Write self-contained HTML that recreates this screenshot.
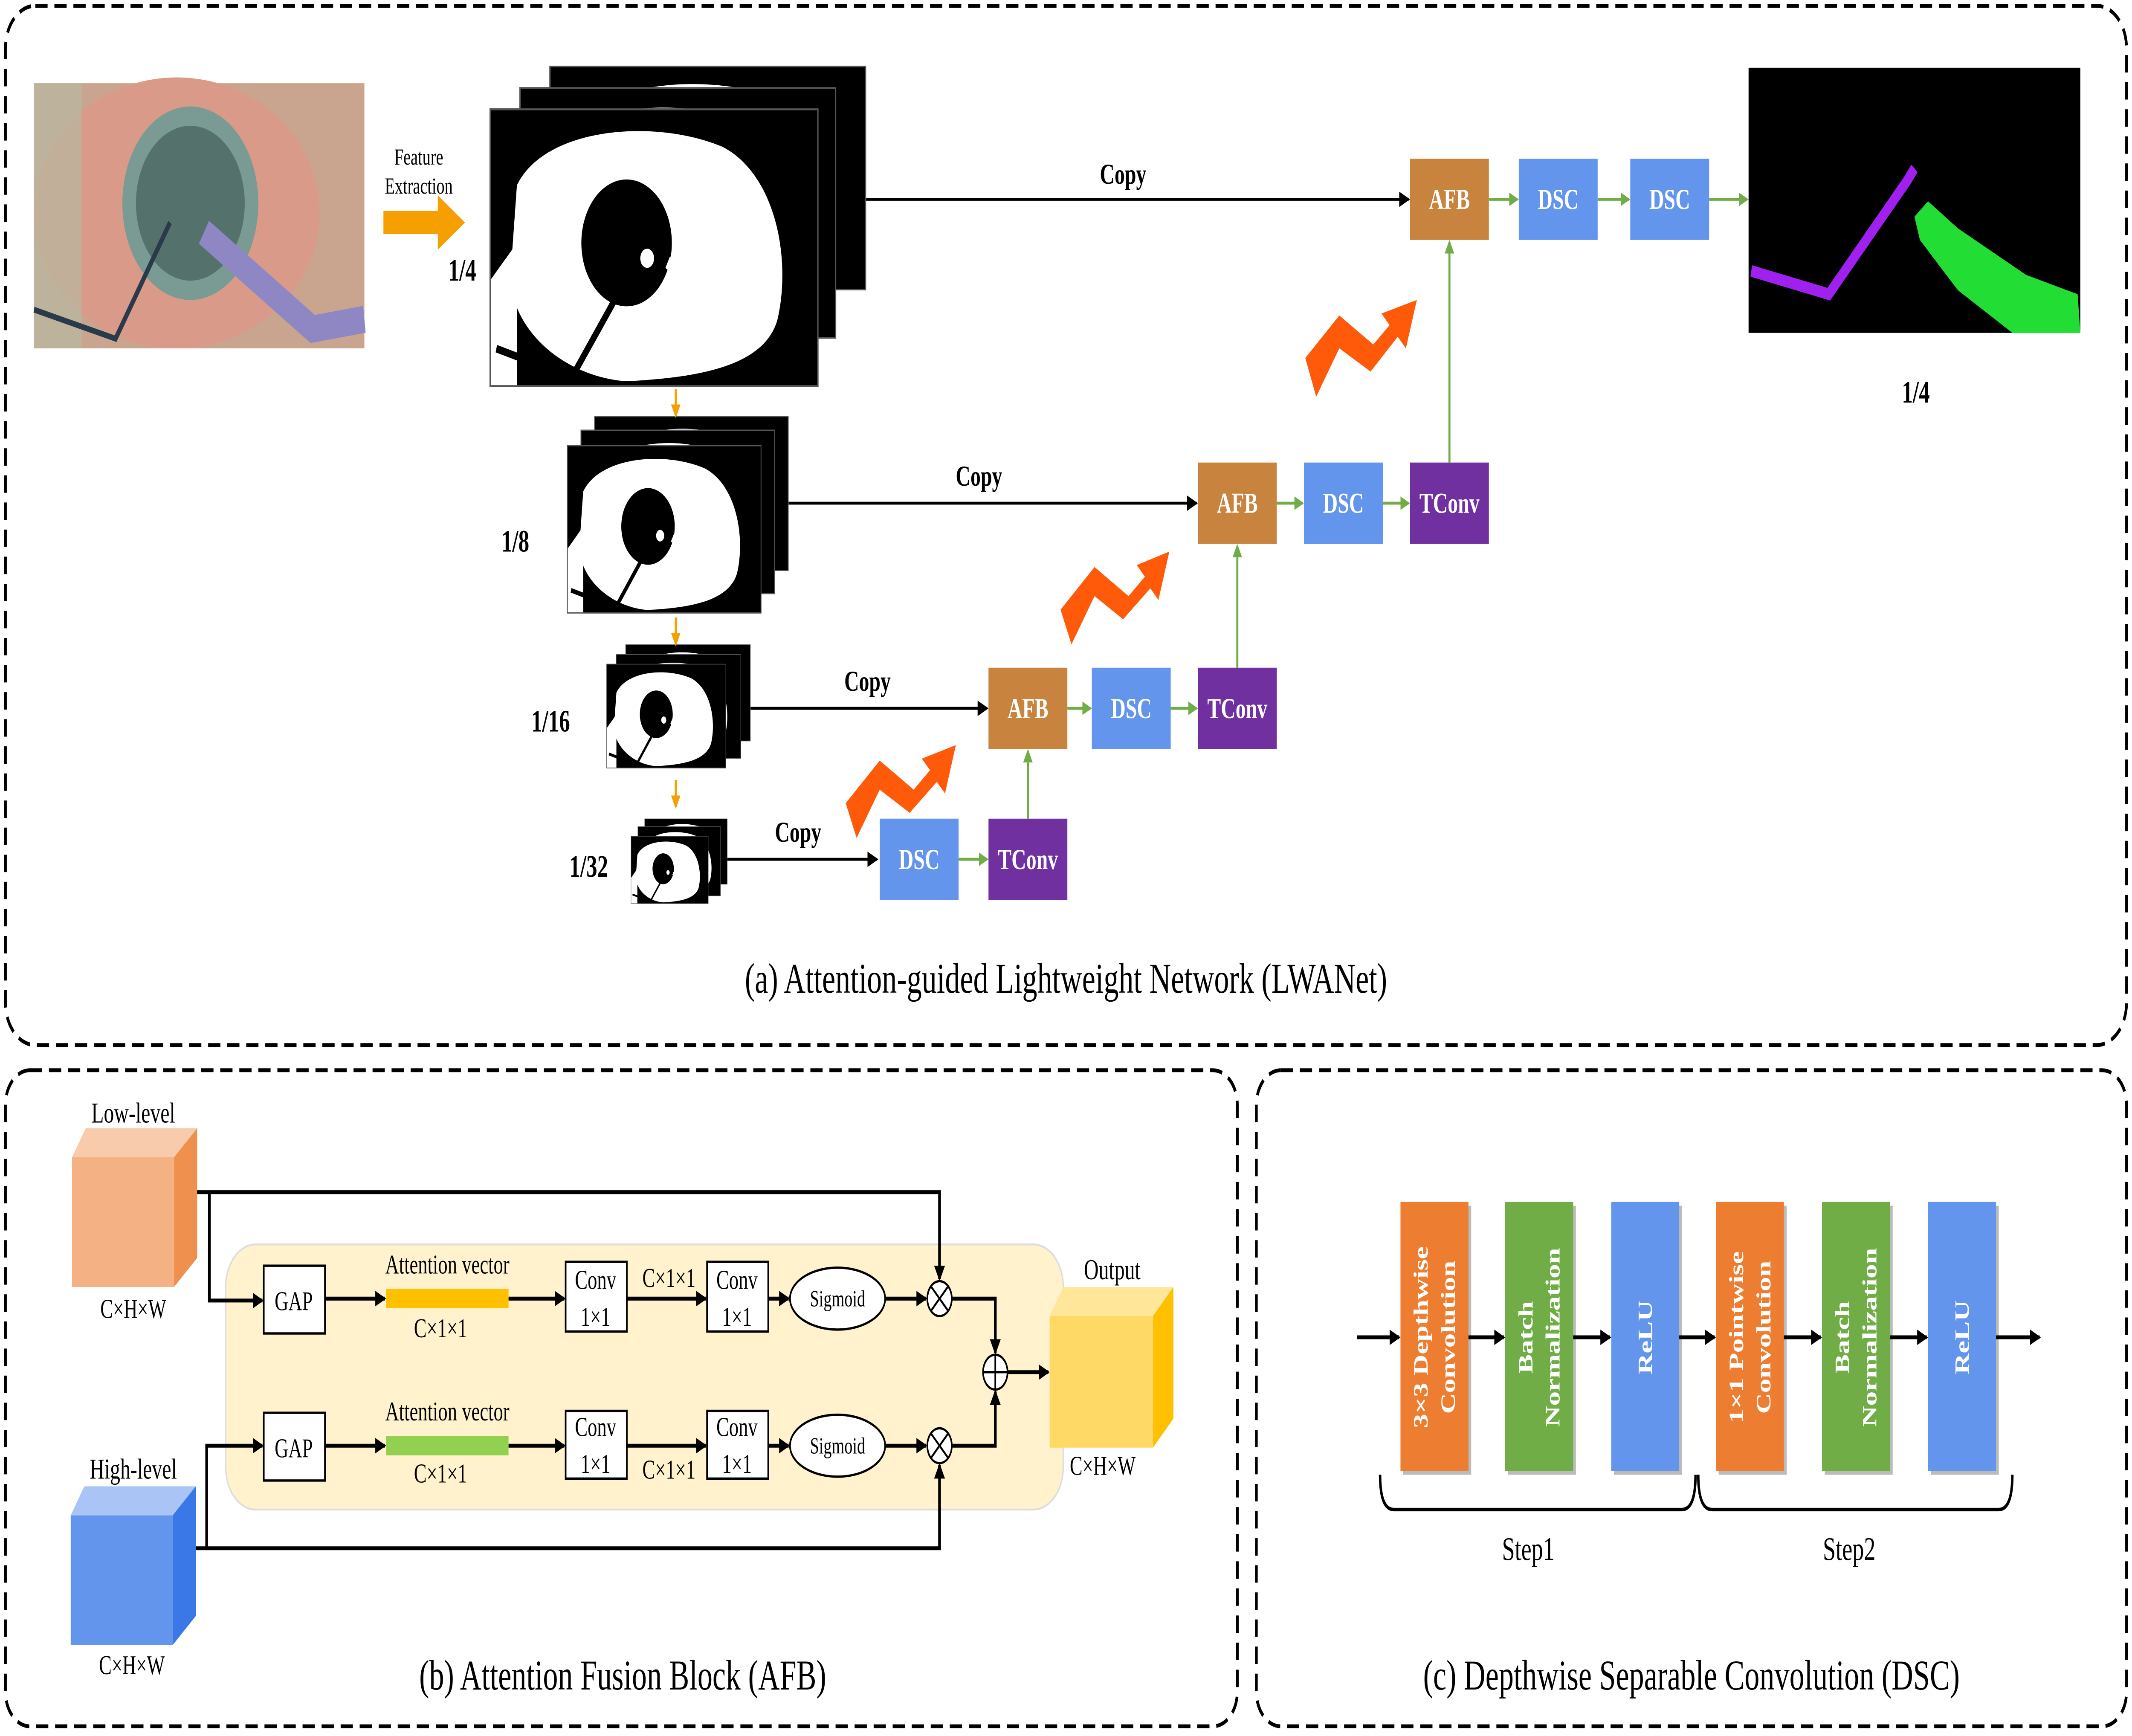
<!DOCTYPE html>
<html><head><meta charset="utf-8"><style>
html,body{margin:0;padding:0;background:#fff;width:100%;height:100%;overflow:hidden}
svg{display:block;width:100vw;height:100vh;position:fixed;left:0;top:0}
text{font-family:"Liberation Serif",serif}
</style></head><body>
<svg viewBox="0 0 1568 897" preserveAspectRatio="none" xmlns="http://www.w3.org/2000/svg">
<defs>
<marker id="ab" markerWidth="8" markerHeight="8" refX="7" refY="4" orient="auto" markerUnits="userSpaceOnUse"><path d="M0,0 L8,4 L0,8 z" fill="#000"/></marker>
<marker id="ag" markerWidth="7" markerHeight="7" refX="6" refY="3.5" orient="auto" markerUnits="userSpaceOnUse"><path d="M0,0 L7,3.5 L0,7 z" fill="#70AD47"/></marker>
<marker id="ao" markerWidth="7" markerHeight="7" refX="6" refY="3.5" orient="auto" markerUnits="userSpaceOnUse"><path d="M0,0 L7,3.5 L0,7 z" fill="#F5A000"/></marker>
<symbol id="fm" viewBox="0 0 240 145" preserveAspectRatio="none">
<rect x="0" y="0" width="240" height="145" fill="#000"/>
<path d="M20,40 C40,10 120,5 170,20 C210,35 220,80 210,110 C200,135 150,140 100,142 C60,140 20,120 15,90 Z" fill="#fff"/>
<path d="M0,90 L20,70 L20,145 L0,145 Z" fill="#fff"/>
<circle cx="100" cy="70" r="33" fill="#000"/>
<circle cx="115" cy="78" r="5" fill="#fff"/>
<path d="M5,125 L60,140 L95,95" stroke="#000" stroke-width="4" fill="none"/>
<path d="M130,80 L175,105" stroke="#fff" stroke-width="7"/>
<rect x="0" y="0" width="240" height="145" fill="none" stroke="#555" stroke-width="2"/>
</symbol>
</defs>

<rect x="4" y="3" width="1560" height="537" rx="22" fill="none" stroke="#000" stroke-width="2" stroke-dasharray="9,5"/>
<rect x="4" y="553" width="906" height="339" rx="18" fill="none" stroke="#000" stroke-width="2" stroke-dasharray="9,5"/>
<rect x="924" y="553" width="640" height="339" rx="18" fill="none" stroke="#000" stroke-width="2" stroke-dasharray="9,5"/>

<rect x="25" y="43" width="243" height="137" fill="#c9a58f"/>
<ellipse cx="130" cy="110" rx="105" ry="70" fill="#d99a8a"/>
<path d="M25,43 L60,43 L60,180 L25,180Z" fill="#b8b89f" opacity="0.7"/>
<circle cx="140" cy="105" r="50" fill="#7a9a94"/>
<circle cx="140" cy="105" r="40" fill="#55716c"/>
<path d="M25,160 L85,175 L125,115" stroke="#2a3a4a" stroke-width="3" fill="none"/>
<path d="M150,120 L230,170 L268,165" stroke="#8f86c4" stroke-width="14" fill="none"/>

<text x="308" y="85" font-size="12" text-anchor="middle">Feature</text>
<text x="308" y="100" font-size="12" text-anchor="middle">Extraction</text>
<path d="M282,109 L322,109 L322,101 L342,115 L322,129 L322,121 L282,121 Z" fill="#F5A000"/>

<use href="#fm" x="404" y="34" width="233" height="116"/>
<use href="#fm" x="382" y="45" width="233" height="130"/>
<use href="#fm" x="360" y="56" width="242" height="144"/>
<text x="340" y="145" font-size="16" font-weight="bold" text-anchor="middle">1/4</text>
<use href="#fm" x="437" y="215" width="143" height="80"/>
<use href="#fm" x="427" y="222" width="143" height="85"/>
<use href="#fm" x="417" y="230" width="143" height="87"/>
<text x="379" y="285" font-size="16" font-weight="bold" text-anchor="middle">1/8</text>
<use href="#fm" x="460" y="333" width="92" height="50"/>
<use href="#fm" x="453" y="338" width="92" height="54"/>
<use href="#fm" x="446" y="343" width="88" height="54"/>
<text x="405" y="378" font-size="16" font-weight="bold" text-anchor="middle">1/16</text>
<use href="#fm" x="474" y="423" width="61" height="34"/>
<use href="#fm" x="469" y="427" width="61" height="36"/>
<use href="#fm" x="464" y="432" width="57" height="35"/>
<text x="433" y="453" font-size="16" font-weight="bold" text-anchor="middle">1/32</text>

<g stroke="#F5A000" stroke-width="1.5" marker-end="url(#ao)">
<line x1="497" y1="201" x2="497" y2="215"/>
<line x1="497" y1="319" x2="497" y2="333"/>
<line x1="497" y1="403" x2="497" y2="417"/>
</g>

<g stroke="#000" stroke-width="1.5" marker-end="url(#ab)">
<line x1="637" y1="103" x2="1036" y2="103"/>
<line x1="580" y1="260" x2="880" y2="260"/>
<line x1="552" y1="366" x2="726" y2="366"/>
<line x1="535" y1="444" x2="645" y2="444"/>
</g>
<g font-size="15" font-weight="bold" text-anchor="middle">
<text x="826" y="95">Copy</text>
<text x="720" y="251">Copy</text>
<text x="638" y="357">Copy</text>
<text x="587" y="435">Copy</text>
</g>

<g font-size="15" font-weight="bold" fill="#fff" text-anchor="middle">
<rect x="1037" y="82" width="58" height="42" fill="#C8843E"/><text x="1066" y="108" fill="#fff">AFB</text>
<rect x="1117" y="82" width="58" height="42" fill="#6495ED"/><text x="1146" y="108" fill="#fff">DSC</text>
<rect x="1199" y="82" width="58" height="42" fill="#6495ED"/><text x="1228" y="108" fill="#fff">DSC</text>
<rect x="881" y="239" width="58" height="42" fill="#C8843E"/><text x="910" y="265" fill="#fff">AFB</text>
<rect x="959" y="239" width="58" height="42" fill="#6495ED"/><text x="988" y="265" fill="#fff">DSC</text>
<rect x="1037" y="239" width="58" height="42" fill="#7030A0"/><text x="1066" y="265" fill="#fff">TConv</text>
<rect x="727" y="345" width="58" height="42" fill="#C8843E"/><text x="756" y="371" fill="#fff">AFB</text>
<rect x="803" y="345" width="58" height="42" fill="#6495ED"/><text x="832" y="371" fill="#fff">DSC</text>
<rect x="881" y="345" width="58" height="42" fill="#7030A0"/><text x="910" y="371" fill="#fff">TConv</text>
<rect x="647" y="423" width="58" height="42" fill="#6495ED"/><text x="676" y="449" fill="#fff">DSC</text>
<rect x="727" y="423" width="58" height="42" fill="#7030A0"/><text x="756" y="449" fill="#fff">TConv</text>
</g>
<g stroke="#70AD47" stroke-width="1.5" marker-end="url(#ag)">
<line x1="1095" y1="103" x2="1116" y2="103"/>
<line x1="1175" y1="103" x2="1198" y2="103"/>
<line x1="1257" y1="103" x2="1285" y2="103"/>
<line x1="939" y1="260" x2="958" y2="260"/>
<line x1="1017" y1="260" x2="1036" y2="260"/>
<line x1="785" y1="366" x2="802" y2="366"/>
<line x1="861" y1="366" x2="880" y2="366"/>
<line x1="705" y1="444" x2="726" y2="444"/>
<line x1="1066" y1="239" x2="1066" y2="125"/>
<line x1="910" y1="345" x2="910" y2="282"/>
<line x1="756" y1="423" x2="756" y2="388"/>
</g>

<g fill="#FF5A0A">
<path d="M960,185 L985,163 L1010,178 L1022,168 L1016,162 L1042,155 L1034,180 L1028,174 L1008,192 L985,180 L968,205 Z"/>
<path d="M780,315 L805,293 L830,308 L842,298 L836,292 L860,285 L852,310 L846,304 L826,320 L805,308 L788,333 Z"/>
<path d="M622,415 L647,393 L672,408 L684,398 L678,392 L703,385 L695,410 L689,404 L669,420 L647,408 L630,433 Z"/>
</g>

<rect x="1286" y="35" width="244" height="137" fill="#000"/>
<path d="M1288,140 L1345,152 L1403,93 L1408,87" stroke="#A020F0" stroke-width="6" fill="none"/>
<path d="M1408,112 L1418,104 L1440,118 L1490,142 L1528,152 L1530,172 L1480,172 L1440,150 L1412,124 Z" fill="#22DD33"/>
<text x="1409" y="208" font-size="16" font-weight="bold" text-anchor="middle">1/4</text>

<text x="784" y="513" font-size="22" text-anchor="middle">(a) Attention-guided Lightweight Network (LWANet)</text>

<rect x="166" y="643" width="616" height="137" rx="22" fill="#FFF2CC" stroke="#ddd"/>
<text x="98" y="580" font-size="15" text-anchor="middle">Low-level</text>
<polygon points="53,598 63,583 145,583 135,598" fill="#F8CBAD"/>
<polygon points="128,598 145,583 145,650 128,665" fill="#F0904F"/>
<rect x="53" y="598" width="75" height="67" fill="#F4B183"/>
<text x="98" y="681" font-size="14" text-anchor="middle">C×H×W</text>

<text x="98" y="764" font-size="15" text-anchor="middle">High-level</text>
<polygon points="52,783 62,768 144,768 134,783" fill="#A9C4F5"/>
<polygon points="127,783 144,768 144,835 127,850" fill="#3B78E7"/>
<rect x="52" y="783" width="75" height="67" fill="#6495ED"/>
<text x="97" y="865" font-size="14" text-anchor="middle">C×H×W</text>

<polygon points="772,680 782,665 863,665 853,680" fill="#FFE699"/>
<polygon points="848,680 863,665 863,733 848,748" fill="#FFC000"/>
<rect x="772" y="680" width="76" height="68" fill="#FFD966"/>
<text x="818" y="661" font-size="15" text-anchor="middle">Output</text>
<text x="811" y="762" font-size="14" text-anchor="middle">C×H×W</text>

<g stroke="#000" stroke-width="2" fill="none">
<polyline points="145,616 691,616 691,661" marker-end="url(#ab)"/>
<polyline points="154,616 154,672 193,672" marker-end="url(#ab)"/>
<polyline points="144,800 691,800 691,757" marker-end="url(#ab)"/>
<polyline points="152,800 152,747 193,747" marker-end="url(#ab)"/>
<line x1="239" y1="671" x2="283" y2="671" marker-end="url(#ab)"/>
<line x1="374" y1="671" x2="415" y2="671" marker-end="url(#ab)"/>
<line x1="461" y1="671" x2="519" y2="671" marker-end="url(#ab)"/>
<line x1="565" y1="671" x2="580" y2="671" marker-end="url(#ab)"/>
<line x1="651" y1="671" x2="681" y2="671" marker-end="url(#ab)"/>
<line x1="239" y1="747" x2="283" y2="747" marker-end="url(#ab)"/>
<line x1="374" y1="747" x2="415" y2="747" marker-end="url(#ab)"/>
<line x1="461" y1="747" x2="519" y2="747" marker-end="url(#ab)"/>
<line x1="565" y1="747" x2="580" y2="747" marker-end="url(#ab)"/>
<line x1="651" y1="747" x2="681" y2="747" marker-end="url(#ab)"/>
<polyline points="700,671 732,671 732,699" marker-end="url(#ab)"/>
<polyline points="700,747 732,747 732,719" marker-end="url(#ab)"/>
<line x1="741" y1="709" x2="771" y2="709" marker-end="url(#ab)"/>
</g>
<g stroke="#000" stroke-width="1.2" fill="#fff">
<rect x="194" y="654" width="45" height="35"/>
<rect x="194" y="730" width="45" height="35"/>
<rect x="416" y="652" width="45" height="36"/>
<rect x="520" y="652" width="45" height="36"/>
<rect x="416" y="729" width="45" height="35"/>
<rect x="520" y="729" width="45" height="35"/>
<ellipse cx="616" cy="671" rx="35" ry="16"/>
<ellipse cx="616" cy="747" rx="35" ry="16"/>
<circle cx="691" cy="671" r="9"/><circle cx="691" cy="747" r="9"/><circle cx="732" cy="709" r="9"/>
</g>
<g stroke="#000" stroke-width="1.2">
<line x1="685" y1="665" x2="697" y2="677"/><line x1="697" y1="665" x2="685" y2="677"/>
<line x1="685" y1="741" x2="697" y2="753"/><line x1="697" y1="741" x2="685" y2="753"/>
<line x1="723" y1="709" x2="741" y2="709"/><line x1="732" y1="700" x2="732" y2="718"/>
</g>
<rect x="284" y="666" width="90" height="10" fill="#FFC000"/>
<rect x="284" y="742" width="90" height="10" fill="#92D050"/>
<g font-size="14" text-anchor="middle">
<text x="216" y="677">GAP</text><text x="216" y="753">GAP</text>
<text x="329" y="658">Attention vector</text><text x="329" y="734">Attention vector</text>
<text x="324" y="691">C×1×1</text><text x="324" y="766">C×1×1</text>
<text x="438" y="666">Conv</text><text x="438" y="685">1×1</text>
<text x="542" y="666">Conv</text><text x="542" y="685">1×1</text>
<text x="438" y="742">Conv</text><text x="438" y="761">1×1</text>
<text x="542" y="742">Conv</text><text x="542" y="761">1×1</text>
<text x="492" y="665">C×1×1</text><text x="492" y="764">C×1×1</text>
<text x="616" y="675" font-size="12">Sigmoid</text><text x="616" y="751" font-size="12">Sigmoid</text>
</g>
<text x="458" y="873" font-size="22" text-anchor="middle">(b) Attention Fusion Block (AFB)</text>

<g fill="#bbb">
<rect x="1032" y="623" width="50" height="139"/><rect x="1109" y="623" width="50" height="139"/><rect x="1187" y="623" width="50" height="139"/>
<rect x="1264" y="623" width="50" height="139"/><rect x="1342" y="623" width="50" height="139"/><rect x="1420" y="623" width="50" height="139"/>
</g>
<rect x="1030" y="621" width="50" height="139" fill="#ED7D31"/>
<rect x="1107" y="621" width="50" height="139" fill="#70AD47"/>
<rect x="1185" y="621" width="50" height="139" fill="#6495ED"/>
<rect x="1262" y="621" width="50" height="139" fill="#ED7D31"/>
<rect x="1340" y="621" width="50" height="139" fill="#70AD47"/>
<rect x="1418" y="621" width="50" height="139" fill="#6495ED"/>
<g stroke="#000" stroke-width="2" marker-end="url(#ab)">
<line x1="998" y1="691" x2="1029" y2="691"/>
<line x1="1080" y1="691" x2="1106" y2="691"/>
<line x1="1157" y1="691" x2="1184" y2="691"/>
<line x1="1235" y1="691" x2="1261" y2="691"/>
<line x1="1312" y1="691" x2="1339" y2="691"/>
<line x1="1390" y1="691" x2="1417" y2="691"/>
<line x1="1468" y1="691" x2="1500" y2="691"/>
</g>
<g font-size="15" font-weight="bold" fill="#fff" text-anchor="middle">
<text transform="translate(1050,691) rotate(-90)">3×3 Depthwise</text>
<text transform="translate(1070,691) rotate(-90)">Convolution</text>
<text transform="translate(1127,691) rotate(-90)">Batch</text>
<text transform="translate(1147,691) rotate(-90)">Normalization</text>
<text transform="translate(1215,691) rotate(-90)">ReLU</text>
<text transform="translate(1282,691) rotate(-90)">1×1 Pointwise</text>
<text transform="translate(1302,691) rotate(-90)">Convolution</text>
<text transform="translate(1360,691) rotate(-90)">Batch</text>
<text transform="translate(1380,691) rotate(-90)">Normalization</text>
<text transform="translate(1448,691) rotate(-90)">ReLU</text>
</g>
<g stroke="#000" stroke-width="1.8" fill="none">
<path d="M1015,762 Q1015,780 1025,780 L1237,780 Q1247,780 1247,762"/>
<path d="M1249,762 Q1249,780 1259,780 L1470,780 Q1480,780 1480,762"/>
</g>
<text x="1124" y="806" font-size="17" text-anchor="middle">Step1</text>
<text x="1360" y="806" font-size="17" text-anchor="middle">Step2</text>
<text x="1244" y="873" font-size="22" text-anchor="middle">(c) Depthwise Separable Convolution (DSC)</text>
</svg>
</body></html>
